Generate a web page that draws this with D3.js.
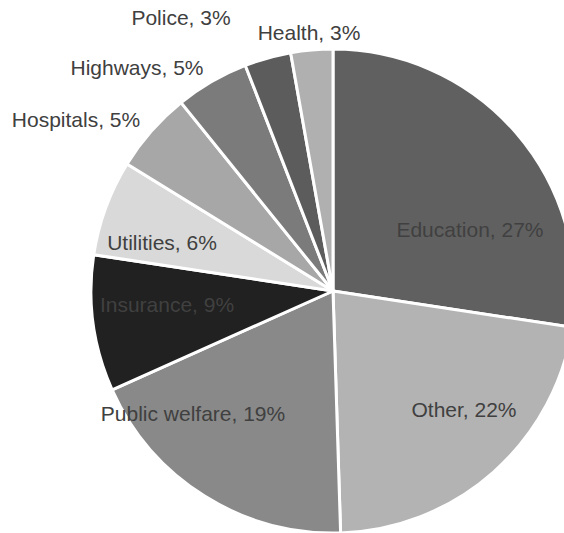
<!DOCTYPE html>
<html>
<head>
<meta charset="utf-8">
<script src="https://cdn.jsdelivr.net/npm/d3@7"></script>
<style>
  html, body { margin: 0; padding: 0; background: #fff; }
  svg { display: block; }
</style>
</head>
<body>
<div id="chart"></div>
<script>
// slices, clockwise from 12 o'clock
const categories = ["Education", "Other", "Public welfare", "Insurance", "Utilities",
                    "Hospitals", "Highways", "Police", "Health"];
// share of total, in percent
const shares = [27.4, 22.1, 18.8, 9.1, 6.4, 5.4, 4.9, 3.1, 2.8];
const fills = ["#606060", "#b3b3b3", "#898989", "#212121", "#d9d9d9",
               "#a7a7a7", "#7b7b7b", "#5c5c5c", "#b0b0b0"];

const width = 564, height = 533;
const cx = 333, cy = 291, radius = 242;

// label centres relative to the pie centre (hand placed, like the original)
const labelOffset = [[137, -61], [131, 119], [-140, 123], [-166, 14], [-171, -48],
                     [-257, -171], [-196, -223], [-152, -273], [-24, -258]];

const svg = d3.select("#chart").append("svg")
    .attr("width", width)
    .attr("height", height);

const g = svg.append("g").attr("transform", `translate(${cx},${cy})`);

const pie = d3.pie().sort(null).value(d => d.share);
const arc = d3.arc().innerRadius(0).outerRadius(radius);
const total = d3.sum(shares);

const data = categories.map((c, i) => ({name: c, share: shares[i], i: i}));

g.selectAll("path")
    .data(pie(data))
    .join("path")
    .attr("d", arc)
    .attr("fill", d => fills[d.data.i])
    .attr("stroke", "#fff")
    .attr("stroke-width", 3)
    .attr("stroke-linejoin", "round");

g.selectAll("text")
    .data(data)
    .join("text")
    .attr("x", d => labelOffset[d.i][0])
    .attr("y", d => labelOffset[d.i][1])
    .attr("dy", "0.35em")
    .attr("text-anchor", "middle")
    .attr("font-family", "'Liberation Sans', Arial, sans-serif")
    .attr("font-size", 21)
    .attr("fill", "#404040")
    .text(d => `${d.name}, ${Math.round(d.share / total * 100)}%`);
</script>
</body>
</html>
